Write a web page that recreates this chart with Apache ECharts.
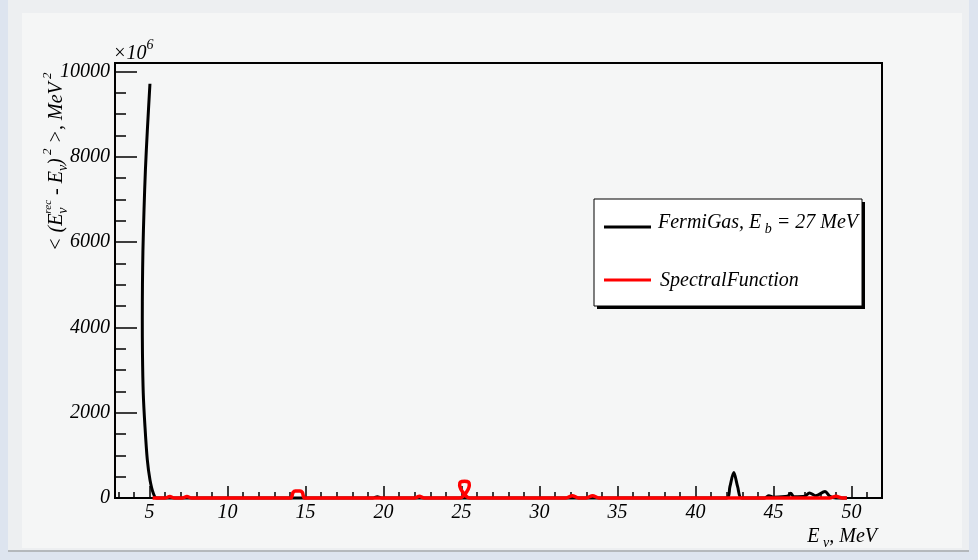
<!DOCTYPE html>
<html><head><meta charset="utf-8">
<script src="https://cdn.jsdelivr.net/npm/echarts@6/dist/echarts.min.js"></script>
<style>
html,body{margin:0;padding:0;background:#dde4ef;}
#panel{position:absolute;left:8px;top:0;width:961px;height:550px;background:#edeff1;border-bottom:2px solid #b4b8bc;}
#inner{position:absolute;left:22px;top:13px;width:940px;height:535px;background:#f5f6f6;}
#c{position:absolute;left:0;top:0;width:978px;height:560px;}
</style>
</head><body>
<div id="panel"></div><div id="inner"></div>
<div id="c"></div>
<script>
// ---- data ----
const xMajorTicks = [5, 10, 15, 20, 25, 30, 35, 40, 45, 50];
const yMajorTicks = [0, 2000, 4000, 6000, 8000, 10000];
const seriesNames = ['FermiGas, E_b = 27 MeV', 'SpectralFunction'];
const fermiGas = [
  [5.03, 9714], [4.86, 8600], [4.74, 7700], [4.65, 6760], [4.58, 5800], [4.55, 5000],
  [4.54, 4200], [4.55, 3400], [4.60, 2469], [4.71, 1679], [4.86, 898], [5.03, 429],
  [5.24, 117], [5.46, 0], [19.3, 0], [19.6, 30], [19.9, 0], [42.0, 0], [42.2, 260],
  [42.45, 600], [42.7, 260], [42.95, 0], [44.4, 0], [44.7, 50], [45.0, 20], [45.9, 40],
  [46.1, 110], [46.3, 30], [47.0, 40], [47.3, 120], [47.7, 50], [48.3, 155], [48.6, 40],
  [49.0, 0], [49.7, 0]
];
const spectral = [
  [5.2, 0], [6.0, 0], [6.3, 35], [6.6, 0], [7.1, 0], [7.4, 35], [7.7, 0], [14.05, 0],
  [14.2, 130], [14.35, 165], [14.65, 165], [14.8, 130], [14.95, 0], [22.0, 0], [22.3, 40],
  [22.6, 0], [24.85, 0], [25.2, 80], [25.5, 300], [25.45, 370], [25.2, 390], [24.92, 370],
  [24.88, 300], [25.2, 80], [25.55, 0], [31.7, 0], [32.1, 55], [32.5, 0], [33.0, 0],
  [33.4, 55], [33.8, 0], [48.6, 0], [49.0, 40], [49.4, 0], [49.7, 0]
];
// ---- layout ----
const X_MIN = 2.79, X_MAX = 51.95, Y_MIN = 0, Y_MAX = 10200;
const xMinorTicks = [], yMinorTicks = [];
for (let v = 3; v <= 51; v++) if (v % 5 !== 0) xMinorTicks.push(v);
for (let v = 500; v <= 10000; v += 500) if (v % 2000 !== 0) yMinorTicks.push(v);

const FONT = '"Liberation Serif", "Times New Roman", serif';
const FS = 20;
const mctx = document.createElement('canvas').getContext('2d');
function measure(t, size) { mctx.font = 'italic ' + size + 'px ' + FONT; return mctx.measureText(t).width; }
function txt(x, y, t, size) {
  return { type: 'text', x: x, y: y, style: { text: t, font: 'italic ' + size + 'px ' + FONT, fill: '#000', align: 'left', verticalAlign: 'middle' } };
}
function pieces(list) {
  let x = 0; const children = [];
  list.forEach(p => {
    if (p.stack) {
      let w = 0;
      p.stack.forEach(q => { children.push(txt(x, q.dy, q.t, q.size)); w = Math.max(w, measure(q.t, q.size)); });
      x += w;
    } else {
      const s = p.size || FS;
      children.push(txt(x, p.dy || 0, p.t, s));
      x += measure(p.t, s);
    }
  });
  return { children: children, width: x };
}
const SUP = { size: 13, dy: -9 }, SUB = { size: 14, dy: 6 };
const yTitle = pieces([
  { t: '< (E' },
  { stack: [Object.assign({ t: 'rec' }, { size: 11, dy: -9 }), Object.assign({ t: 'ν' }, SUB)] },
  { t: ' - E' }, Object.assign({ t: 'ν' }, SUB), { t: ')' }, Object.assign({ t: ' 2' }, SUP),
  { t: ' >, MeV' }, Object.assign({ t: ' 2' }, SUP)
]);
const xTitle = pieces([{ t: 'E' }, Object.assign({ t: ' ν' }, SUB), { t: ', MeV' }]);
const expo = pieces([{ t: '×10' }, Object.assign({ t: '6' }, { size: 14, dy: -9 })]);
const leg1 = pieces([{ t: 'FermiGas, E' }, Object.assign({ t: ' b' }, SUB), { t: ' = 27 MeV' }]);
const leg2 = pieces([{ t: 'SpectralFunction' }]);

const labelStyle = { fontFamily: FONT, fontStyle: 'italic', fontSize: FS, color: '#000', formatter: v => String(v) };

const chart = echarts.init(document.getElementById('c'));
chart.setOption({
  animation: false,
  backgroundColor: 'transparent',
  grid: { left: 115, top: 63, width: 767, height: 435, show: true, borderColor: '#000', borderWidth: 2, backgroundColor: 'transparent' },
  xAxis: [
    { type: 'value', min: X_MIN, max: X_MAX, position: 'bottom',
      axisLine: { show: true, onZero: false, lineStyle: { color: '#000', width: 2 } },
      axisTick: { show: true, inside: true, length: 12, customValues: xMajorTicks, lineStyle: { color: '#000', width: 1.5 } },
      axisLabel: Object.assign({ customValues: xMajorTicks, margin: 5 }, labelStyle),
      splitLine: { show: false } },
    { type: 'value', min: X_MIN, max: X_MAX, position: 'bottom',
      axisLine: { show: false },
      axisTick: { show: true, inside: true, length: 6, customValues: xMinorTicks, lineStyle: { color: '#000', width: 1.5 } },
      axisLabel: { show: false }, splitLine: { show: false } }
  ],
  yAxis: [
    { type: 'value', min: Y_MIN, max: Y_MAX, position: 'left',
      axisLine: { show: true, onZero: false, lineStyle: { color: '#000', width: 2 } },
      axisTick: { show: true, inside: true, length: 22, customValues: yMajorTicks, lineStyle: { color: '#000', width: 1.5 } },
      axisLabel: Object.assign({ customValues: yMajorTicks, margin: 5 }, labelStyle),
      splitLine: { show: false } },
    { type: 'value', min: Y_MIN, max: Y_MAX, position: 'left',
      axisLine: { show: false },
      axisTick: { show: true, inside: true, length: 11, customValues: yMinorTicks, lineStyle: { color: '#000', width: 1.5 } },
      axisLabel: { show: false }, splitLine: { show: false } }
  ],
  series: [
    { name: seriesNames[0], type: 'line', data: fermiGas, showSymbol: false, smooth: 0.3, clip: false,
      lineStyle: { color: '#000', width: 3 }, itemStyle: { color: '#000' } },
    { name: seriesNames[1], type: 'line', data: spectral, showSymbol: false, smooth: 0.3, clip: false,
      lineStyle: { color: '#ff0000', width: 3.5 }, itemStyle: { color: '#ff0000' } }
  ],
  graphic: [
    { type: 'group', x: 57, y: 251, rotation: Math.PI / 2, children: yTitle.children },
    { type: 'group', x: 877 - xTitle.width, y: 537, children: xTitle.children },
    { type: 'group', x: 113, y: 54, children: expo.children },
    { type: 'rect', shape: { x: 597, y: 202, width: 268, height: 107 }, style: { fill: '#000' } },
    { type: 'rect', shape: { x: 594, y: 199, width: 268, height: 107 }, style: { fill: '#fff', stroke: '#000', lineWidth: 1 } },
    { type: 'line', shape: { x1: 604, y1: 227, x2: 651, y2: 227 }, style: { stroke: '#000', lineWidth: 3 } },
    { type: 'line', shape: { x1: 604, y1: 280, x2: 651, y2: 280 }, style: { stroke: '#ff0000', lineWidth: 3 } },
    { type: 'group', x: 658, y: 223, children: leg1.children },
    { type: 'group', x: 660, y: 281, children: leg2.children }
  ]
});
</script>
</body></html>
